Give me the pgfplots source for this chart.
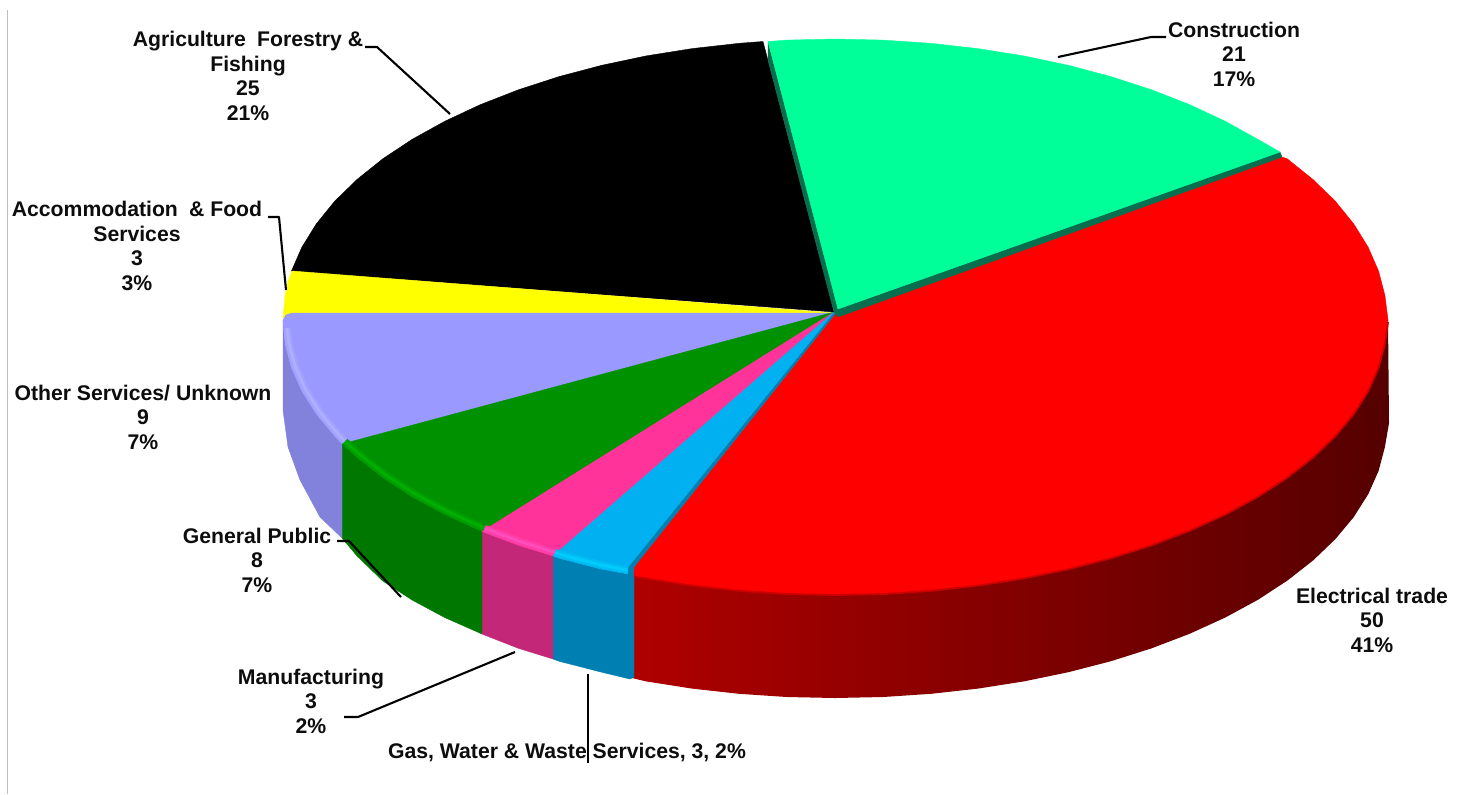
\documentclass[border=0pt]{standalone}
\usepackage{fontspec}
\setmainfont{Liberation Sans}
\usepackage{pgfplots}
\pgfplotsset{compat=1.18}
\definecolor{cElec}{RGB}{255,0,0}
\definecolor{cElecA}{RGB}{175,0,0}
\definecolor{cElecB}{RGB}{108,0,0}
\definecolor{cElecC}{RGB}{85,0,0}
\definecolor{cElecE}{RGB}{205,0,0}
\definecolor{cCons}{RGB}{0,255,153}
\definecolor{cConsW}{RGB}{8,110,78}
\definecolor{cGas}{RGB}{0,176,240}
\definecolor{cGasW}{RGB}{0,128,178}
\definecolor{cGasM}{RGB}{0,188,245}
\definecolor{cGasH}{RGB}{0,205,252}
\definecolor{cMan}{RGB}{255,51,153}
\definecolor{cManW}{RGB}{195,40,120}
\definecolor{cManM}{RGB}{255,62,168}
\definecolor{cManH}{RGB}{255,78,188}
\definecolor{cPub}{RGB}{0,145,0}
\definecolor{cPubW}{RGB}{0,120,0}
\definecolor{cPubM}{RGB}{0,158,0}
\definecolor{cPubH}{RGB}{0,175,0}
\definecolor{cOth}{RGB}{153,153,255}
\definecolor{cOthW}{RGB}{130,130,220}
\definecolor{cOthM}{RGB}{162,162,255}
\definecolor{cOthH}{RGB}{175,175,255}
\definecolor{cAcc}{RGB}{255,255,0}
\newcommand{\lab}{\fontsize{10.6}{12.25}\selectfont\bfseries}
\tikzset{
  lead/.style={black, line width=1.05pt},
  txt/.style={align=center, inner sep=0pt, font=\lab, text=black!95},
  rimA/.style={line width=3.6pt, line cap=butt},
  rimB/.style={line width=1.4pt, line cap=butt},
}
\begin{document}
\begin{tikzpicture}
\begin{axis}[
  scale only axis, width=730.5pt, height=397pt,
  xmin=0, xmax=1461, ymin=0, ymax=794, y dir=reverse,
  hide axis, clip=false,
  every axis plot/.append style={line join=round},
]
% page background, keeps the picture size
\addplot[fill=white, draw=none] coordinates {(0,0) (1461,0) (1461,794) (0,794)} --cycle;
% thin rule on the left
\addplot[draw=black!25, line width=0.6pt] coordinates {(7.5,10) (7.5,794)};

% side walls
\addplot[draw=none, left color=cElecA, middle color=cElecB, right color=cElecC] coordinates {
 (632,576) (646.2,578.4) (692.1,585.6) (739.1,590.8) (786.9,594) (835,595) (883.1,594) (930.9,590.8) (977.9,585.6) (1023.8,578.4)
 (1068.3,569.2) (1111,558.2) (1151.6,545.3) (1189.8,530.7) (1225.3,514.5) (1257.9,496.8) (1287.2,477.7) (1313,457.5) (1335.3,436.2)
 (1353.7,414.1) (1368.2,391.2) (1378.6,367.8) (1384.9,344) (1388,320) (1389,423) (1384.9,447) (1378.6,470.8) (1368.2,494.2) (1353.7,517.1)
 (1335.3,539.2) (1313,560.5) (1287.2,580.7) (1257.9,599.8) (1225.3,617.5) (1189.8,633.7) (1151.6,648.3) (1111,661.2) (1068.3,672.2)
 (1023.8,681.4) (977.9,688.6) (930.9,693.8) (883.1,697) (835,698) (786.9,697) (739.1,693.8) (692.1,688.6) (646.2,681.4) (632,678)} --cycle;
\addplot[fill=cGasW, draw=cGasW, line width=0.2pt] coordinates {
 (553,556) (559,558.2) (601.7,569.2) (628,574) (634,570) (634,677) (630,679) (601.7,672.2) (559,661.2) (553,659)} --cycle;
\addplot[fill=cManW, draw=cManW, line width=0.2pt] coordinates {
 (482,531.5) (518.4,545.3) (553,556) (553,659) (518.4,648.3) (482,634)} --cycle;
\addplot[fill=cPubW, draw=cPubW, line width=0.2pt] coordinates {
 (342,444) (357,457.5) (382.8,477.7) (412.1,496.8) (444.7,514.5) (482,531.5) (482,634) (444.7,617.5) (412.1,600) (382.8,581) (357,556) (342,538)} --cycle;
\addplot[fill=cOthW, draw=cOthW, line width=0.2pt] coordinates {
 (283,320) (285.1,344) (291.4,367.8) (301.8,391.2) (316.3,414.1) (334.7,436.2) (342,444) (342,538) (320,517) (300,480) (288,447) (283,410)} --cycle;

% top faces
\addplot[fill=black, draw=black, line width=0.2pt] coordinates {
 (834,312) (291.4,271.2) (301.8,247.3) (316.3,223.9) (334.7,201.2) (357,179.5) (382.8,158.8) (412.1,139.4) (444.7,121.3) (480.2,104.7)
 (518.4,89.8) (559,76.6) (601.7,65.3) (646.2,55.9) (692.1,48.6) (739.1,43.3) (763,41.5)} --cycle;
\addplot[fill=cAcc, draw=cAcc, line width=0.2pt] coordinates {
 (834,313) (292,271) (288,282) (285,296) (283,318) (292,318)} --cycle;
\addplot[fill=cOth, draw=cOth, line width=0.2pt] coordinates {
 (834,313) (292,313) (286,315) (283,320) (285.1,344) (291.4,367.8) (301.8,391.2) (316.3,414.1) (334.7,436.2) (342,444)} --cycle;
\addplot[draw=cOthM, rimA] coordinates {(287,328) (289,343.6) (295,366) (305.5,389.5) (320,412.5) (338,434) (344.5,441)};
\addplot[draw=cOthH, rimB] coordinates {(287,328) (289,343.6) (295,366) (305.5,389.5) (320,412.5) (338,434) (344.5,441)};
\addplot[fill=cPub, draw=cPub, line width=0.2pt] coordinates {
 (834,312) (342,444) (357,457.5) (382.8,477.7) (412.1,496.8) (444.7,514.5) (482,531.5)} --cycle;
\addplot[draw=cPubM, rimA] coordinates {(345,441.5) (360.5,455.2) (386,475.2) (415,494) (447.5,511.5) (484,528)};
\addplot[draw=cPubH, rimB] coordinates {(345,441.5) (360.5,455.2) (386,475.2) (415,494) (447.5,511.5) (484,528)};
\addplot[fill=cMan, draw=cMan, line width=0.2pt] coordinates {
 (834,312) (482,531.5) (518.4,545.3) (553,556)} --cycle;
\addplot[draw=cManM, rimA] coordinates {(484.5,528.5) (521,541.8) (555,552.5)};
\addplot[draw=cManH, rimB] coordinates {(484.5,528.5) (521,541.8) (555,552.5)};
\addplot[fill=cElec, draw=cElec, line width=0.2pt] coordinates {
 (835,314) (1282,157) (1287.2,158.8) (1313,179.5) (1335.3,201.2) (1353.7,223.9) (1368.2,247.3) (1378.6,271.2) (1384.9,295.5) (1388,320)
 (1384.9,344) (1378.6,367.8) (1368.2,391.2) (1353.7,414.1) (1335.3,436.2) (1313,457.5) (1287.2,477.7) (1257.9,496.8) (1225.3,514.5) (1189.8,530.7)
 (1151.6,545.3) (1111,558.2) (1068.3,569.2) (1023.8,578.4) (977.9,585.6) (930.9,590.8) (883.1,594) (835,595) (786.9,594) (739.1,590.8)
 (692.1,585.6) (646.2,578.4) (634,576.5) (634,567)} --cycle;
\addplot[draw=cElecE, line width=0.9pt] coordinates {
 (1388,322) (1384.9,344) (1378.6,367.8) (1368.2,391.2) (1353.7,414.1) (1335.3,436.2) (1313,457.5) (1287.2,477.7) (1257.9,496.8) (1225.3,514.5) (1189.8,530.7)
 (1151.6,545.3) (1111,558.2) (1068.3,569.2) (1023.8,578.4) (977.9,585.6) (930.9,590.8) (883.1,594) (835,595) (786.9,594) (739.1,590.8)
 (692.1,585.6) (646.2,578.4) (634,576.5)};
\addplot[fill=cGasW, draw=cGasW, line width=0.2pt] coordinates {
 (834,312) (628,567) (628,574) (634,570) (634,567) (835,314)} --cycle;
\addplot[fill=cGas, draw=cGas, line width=0.2pt] coordinates {
 (834,312) (553,556) (559,558.2) (601.7,569.2) (628,574) (628,567)} --cycle;
\addplot[draw=cGasM, rimA] coordinates {(555,552.5) (562,555) (604,565.5) (627.5,570)};
\addplot[draw=cGasH, rimB] coordinates {(555,552.5) (562,555) (604,565.5) (627.5,570)};
\addplot[fill=cConsW, draw=cConsW, line width=0.2pt] coordinates {
 (768,42) (838,309) (1280,152) (1282,157) (838,317) (834,312) (768,60)} --cycle;
\addplot[fill=cCons, draw=cCons, line width=0.2pt] coordinates {
 (768,41.5) (786.9,40.1) (835,39) (883.1,40.1) (930.9,43.3) (977.9,48.6) (1023.8,55.9) (1068.3,65.3) (1111,76.6) (1151.6,89.8) (1189.8,104.7)
 (1225.3,121.3) (1257.9,139.4) (1280,152) (838,309)} --cycle;

% leader lines
\addplot[lead] coordinates {(365,47) (377,47) (450,114)};
\addplot[lead] coordinates {(268,217) (279,217) (286,290)};
\addplot[lead] coordinates {(1166,37) (1151,37) (1058,57)};
\addplot[lead] coordinates {(337,541) (349,541) (401,597)};
\addplot[lead] coordinates {(344,717) (358,717) (515,652)};
\addplot[lead] coordinates {(588,674) (588,763)};

% labels
\node[txt] at (axis cs:248,76) {Agriculture\hspace{0.25em} Forestry \&\\Fishing\\25\\21\%};
\node[txt] at (axis cs:137,246) {Accommodation\hspace{0.25em} \& Food\\Services\\3\\3\%};
\node[txt] at (axis cs:1234,54) {Construction\\21\\17\%};
\node[txt] at (axis cs:1372,620) {Electrical trade\\50\\41\%};
\node[txt] at (axis cs:143,417) {Other Services/ Unknown\\9\\7\%};
\node[txt] at (axis cs:257,560) {General Public\\8\\7\%};
\node[txt] at (axis cs:311,701) {Manufacturing\\3\\2\%};
\node[txt] at (axis cs:567,752) {Gas, Water \& Waste Services, 3, 2\%};
\end{axis}
\end{tikzpicture}
\end{document}
